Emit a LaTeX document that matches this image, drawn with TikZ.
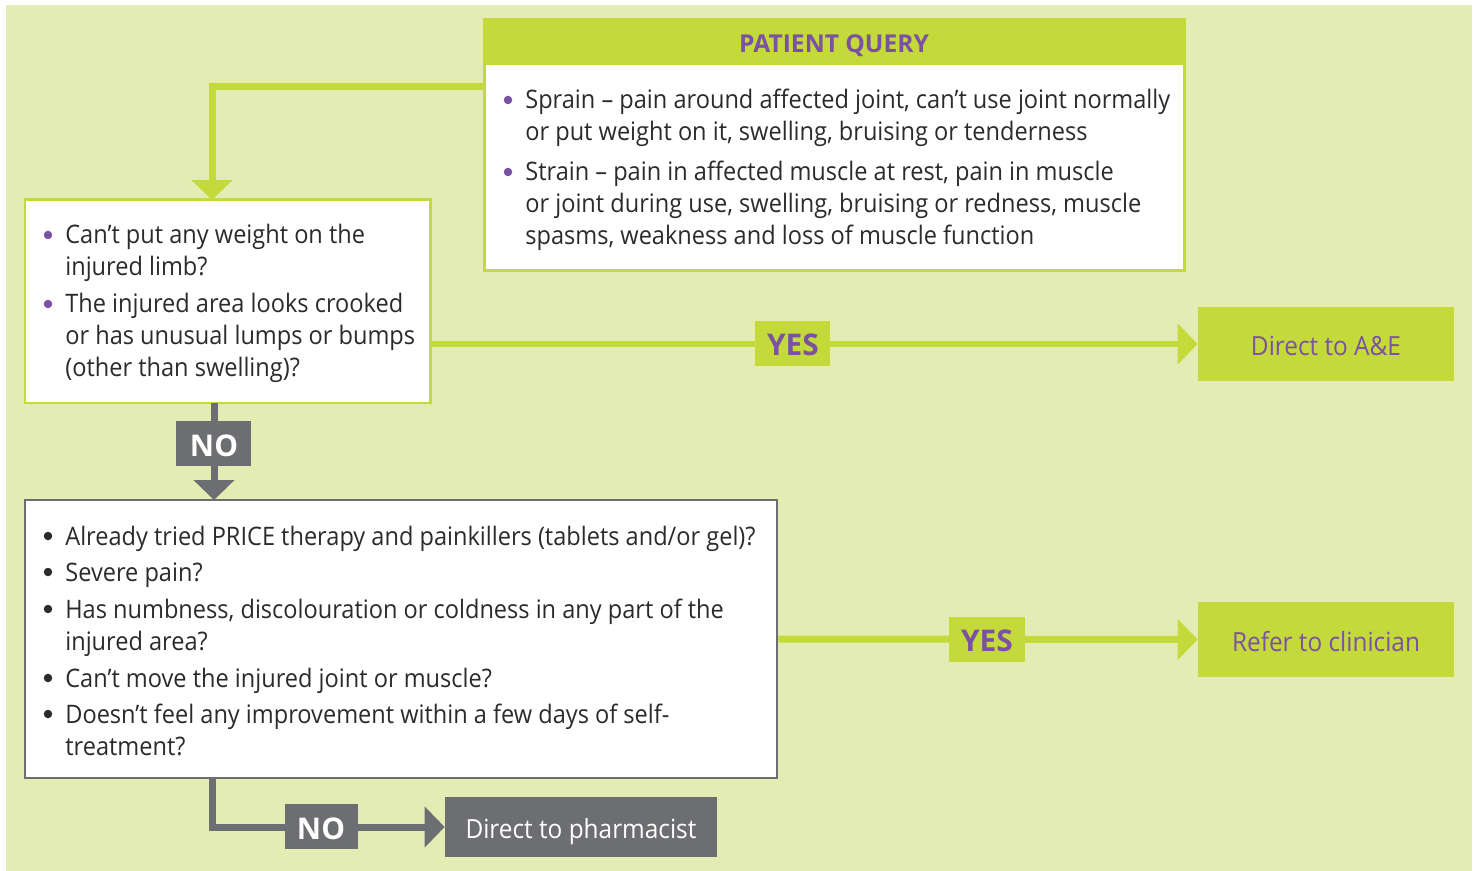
\documentclass[tikz,border=0pt]{standalone}
\usepackage{fontspec}
\setmainfont{Open Sans}
\newfontfamily\bodyfont[FakeStretch=0.925]{Open Sans}
\usetikzlibrary{arrows.meta,fit}
\definecolor{bggreen}{HTML}{E3EDB3}
\definecolor{lime}{HTML}{C4D93A}
\definecolor{purp}{HTML}{7B52A3}
\definecolor{greyd}{HTML}{6D6E71}
\definecolor{txt}{HTML}{2B2B2B}
\tikzset{
  ln/.style={anchor=base west, inner sep=0pt, text=txt, font=\bodyfont\fontsize{14.5}{17}\selectfont},
  pbul/.style={circle, inner sep=0pt, minimum size=0.17cm, fill=purp},
  kbul/.style={circle, inner sep=0pt, minimum size=0.17cm, fill=txt},
  gbox/.style={inner sep=0pt, draw=lime, line width=0.06cm, fill=white},
  kbox/.style={inner sep=0pt, draw=greyd, line width=0.05cm, fill=white},
  outbox/.style={inner sep=0pt, fill=lime},
  outtext/.style={inner sep=0pt, anchor=base, text=purp, font=\bodyfont\fontsize{15}{18}\selectfont},
  yeslab/.style={inner sep=0pt, fill=lime},
  yestext/.style={inner sep=0pt, anchor=base, text=purp, font=\bfseries\fontsize{17}{20}\selectfont},
  nolab/.style={inner sep=0pt, fill=greyd},
  notext/.style={inner sep=0pt, anchor=base, text=white, font=\bfseries\fontsize{17}{20}\selectfont},
  garrow/.style={draw=lime, line width=0.14cm, -{Triangle[width=0.8cm,length=0.4cm]}},
  karrow/.style={draw=greyd, line width=0.14cm, -{Triangle[width=0.8cm,length=0.4cm]}},
}
\begin{document}
\begin{tikzpicture}[x=0.02cm,y=-0.02cm]
\useasboundingbox (0,0) rectangle (1477,871);
\fill[white] (0,0) rectangle (1477,871);
\fill[bggreen] (6,5) rectangle (1472,871);

% boxes
\node[gbox, fit={(484,20) (1184,271)}] (query) {};
\fill[lime] (query.north west) rectangle (1184,65);
\node[text=purp, anchor=base, font=\bfseries\fontsize{14}{17}\selectfont, inner sep=0pt] (qtitle) at (834,53) {PATIENT QUERY};

\node[gbox, fit={(25,200) (430,403)}] (box1) {};
\node[kbox, fit={(25,500) (777,778)}] (box2) {};

\node[outbox, fit={(1198,307) (1454,381)}] (ae) {};
\node[outtext] (aetext) at (1326,356) {Direct to A\&E};
\node[outbox, fit={(1198,602) (1454,677)}] (refer) {};
\node[outtext] (refertext) at (1326,651) {Refer to clinician};
\node[inner sep=0pt, fill=greyd, fit={(445,797) (717,857)}] (pharm) {};
\node[outtext, text=white] (pharmtext) at (581,838) {Direct to pharmacist};

% connectors
\coordinate (qa) at (484,87);
\coordinate (b1top) at (212,200);
\draw[garrow, line join=miter] (qa) -| (b1top);
\draw[garrow] (box1.east |- ae.west) -- (ae.west);
\draw[garrow] (box2.east) -- (refer.west);
\coordinate (n1a) at (214,403);
\coordinate (n1b) at (214,500);
\draw[karrow] (n1a) -- (n1b);
\coordinate (n2a) at (212,778);
\draw[karrow, line join=miter] (n2a) |- (pharm.west);

% labels on connectors
\node[yeslab, fit={(755,321) (830,366)}] (yes1) {};
\node[yestext] (yes1t) at (793,356) {YES};
\node[yeslab, fit={(949,617) (1025,662)}] (yes2) {};
\node[yestext] (yes2t) at (987,651) {YES};
\node[nolab, fit={(176,421) (251,466)}] (no1) {};
\node[notext] (no1t) at (214,456) {NO};
\node[nolab, fit={(285,804) (358,849)}] (no2) {};
\node[notext] (no2t) at (321,839) {NO};

% query text
\node[pbul] (qb1) at (508,100) {};
\node[ln] (q1) at (525,109) {Sprain – pain around affected joint, can’t use joint normally};
\node[ln] (q2) at (525,141) {or put weight on it, swelling, bruising or tenderness};
\node[pbul] (qb2) at (508,172) {};
\node[ln] (q3) at (525,181) {Strain – pain in affected muscle at rest, pain in muscle};
\node[ln] (q4) at (525,213) {or joint during use, swelling, bruising or redness, muscle};
\node[ln] (q5) at (525,245) {spasms, weakness and loss of muscle function};

% box1 text
\node[pbul] (ab1) at (48,235) {};
\node[ln] (a1) at (65,244) {Can’t put any weight on the};
\node[ln] (a2) at (65,276) {injured limb?};
\node[pbul] (ab2) at (48,304) {};
\node[ln] (a3) at (65,313) {The injured area looks crooked};
\node[ln] (a4) at (65,345) {or has unusual lumps or bumps};
\node[ln] (a5) at (65,377) {(other than swelling)?};

% box2 text
\node[kbul] (bb1) at (48,536) {};
\node[ln] (b1) at (65,545) {Already tried PRICE therapy and painkillers (tablets and/or gel)?};
\node[kbul] (bb2) at (48,572) {};
\node[ln] (b2) at (65,581) {Severe pain?};
\node[kbul] (bb3) at (48,609) {};
\node[ln] (b3) at (65,618) {Has numbness, discolouration or coldness in any part of the};
\node[ln] (b4) at (65,650) {injured area?};
\node[kbul] (bb4) at (48,678) {};
\node[ln] (b5) at (65,687) {Can’t move the injured joint or muscle?};
\node[kbul] (bb5) at (48,714) {};
\node[ln] (b6) at (65,723) {Doesn’t feel any improvement within a few days of self-};
\node[ln] (b7) at (65,755) {treatment?};
\end{tikzpicture}
\end{document}
